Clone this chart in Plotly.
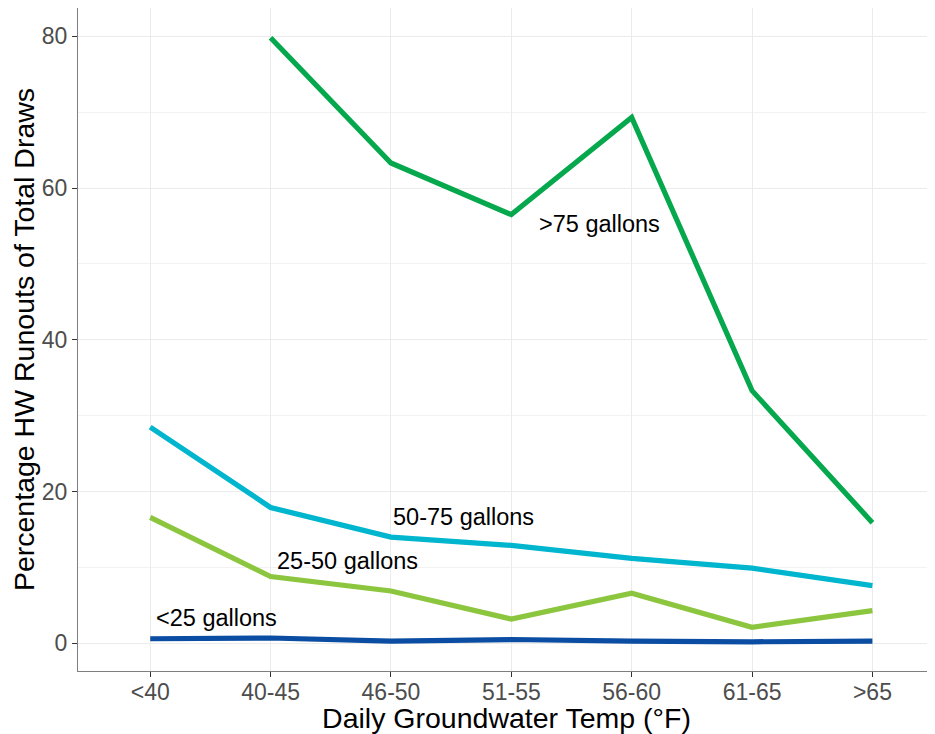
import plotly.graph_objects as go

categories = ["<40", "40-45", "46-50", "51-55", "56-60", "61-65", ">65"]
over75 = [None, 79.8, 63.3, 56.5, 69.3, 33.3, 15.9]
g50_75 = [28.5, 17.9, 14.0, 12.9, 11.2, 9.9, 7.6]
g25_50 = [16.6, 8.8, 6.9, 3.2, 6.6, 2.1, 4.3]
under25 = [0.6, 0.7, 0.3, 0.5, 0.3, 0.2, 0.3]

series_names = [">75 gallons", "50-75 gallons", "25-50 gallons", "<25 gallons"]
series_values = [over75, g50_75, g25_50, under25]
series_colors = ["#05A84D", "#00B5CE", "#8CC63F", "#0B4DA2"]

label_x = [3.21, 2.0, 1.036, 0.033]
label_y = [55.2, 16.6, 10.8, 3.3]

x_idx = list(range(len(categories)))

fig = go.Figure()
for name, vals, col in zip(series_names, series_values, series_colors):
    fig.add_trace(go.Scatter(x=x_idx, y=vals, mode="lines", name=name,
                             line=dict(color=col, width=5.2), connectgaps=False,
                             showlegend=False))

for name, lx, ly in zip(series_names, label_x, label_y):
    fig.add_annotation(x=lx, y=ly, text=name, showarrow=False, xanchor="left",
                       yanchor="middle", font=dict(size=23.5, color="black",
                                                   family="Liberation Sans, Arial"))

fig.update_layout(
    width=927, height=726,
    margin=dict(l=70, r=0, t=0, b=63),
    plot_bgcolor="white", paper_bgcolor="white",
    font=dict(family="Liberation Sans, Arial"),
    xaxis=dict(
        range=[-0.6, 6.52], tickmode="array", tickvals=x_idx, ticktext=categories,
        showgrid=True, gridcolor="#ebebeb", gridwidth=1.1, zeroline=False,
        showline=True, linecolor="#7f7f7f", linewidth=1.2, mirror=True,
        ticks="outside", ticklen=5, tickcolor="#333333", tickwidth=1.1,
        tickfont=dict(size=23, color="#4d4d4d"),
        ticklabelstandoff=-5,
        automargin=False,
        title=dict(text="Daily Groundwater Temp (°F)", font=dict(size=28.5, color="black"), standoff=2),
    ),
    yaxis=dict(
        range=[-3.65, 83.73], tickvals=[0, 20, 40, 60, 80],
        showgrid=True, gridcolor="#ebebeb", gridwidth=1.1, zeroline=False,
        minor=dict(tickvals=[10, 30, 50, 70], showgrid=True, gridcolor="#f2f2f2", gridwidth=0.6, ticks=""),
        showline=True, linecolor="#7f7f7f", linewidth=1.2, mirror=False,
        ticks="outside", ticklen=5, tickcolor="#333333", tickwidth=1.1,
        tickfont=dict(size=23, color="#4d4d4d"),
        automargin=False,
        title=dict(text="Percentage HW Runouts of Total Draws", font=dict(size=28.5, color="black"), standoff=6),
    ),
)

fig.write_html("out.html")
